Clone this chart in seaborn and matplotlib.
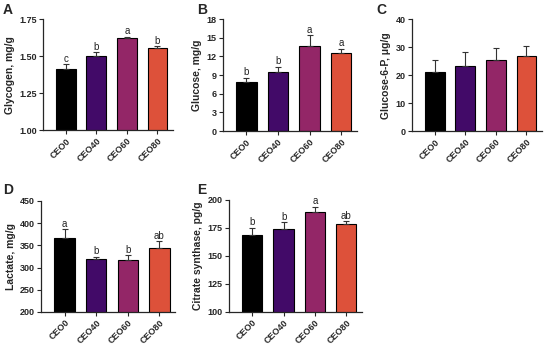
import matplotlib
matplotlib.use("Agg")
import matplotlib.pyplot as plt
import numpy as np
import pandas as pd
import seaborn as sns

GROUPS = ["CEO0", "CEO40", "CEO60", "CEO80"]
COLORS = ["#000000", "#420a68", "#932667", "#dd513a"]

glycogen_mean = [1.41, 1.50, 1.62, 1.555]
glycogen_err = [0.035, 0.025, 0.012, 0.01]
glycogen_letters = ["c", "b", "a", "b"]

glucose_mean = [7.9, 9.5, 13.7, 12.5]
glucose_err = [0.7, 0.8, 1.7, 0.7]
glucose_letters = ["b", "b", "a", "a"]

g6p_mean = [21.2, 23.2, 25.4, 26.7]
g6p_err = [4.1, 4.9, 4.2, 3.7]
g6p_letters = ["", "", "", ""]

lactate_mean = [366, 320, 316, 344]
lactate_err = [20, 4, 12, 15]
lactate_letters = ["a", "b", "b", "ab"]

cs_mean = [169, 174, 189, 178.5]
cs_err = [6, 6, 5, 2.5]
cs_letters = ["b", "b", "a", "ab"]

sns.set_theme(style="ticks")
plt.rcParams["font.family"] = ["Liberation Sans", "DejaVu Sans"]

fig = plt.figure(figsize=(5.5, 3.47), dpi=100)


def panel(rect, letter, means, errs, letters, ylabel, ylim, yticks, fmt, letter_pos):
    ax = fig.add_axes(rect)
    df = pd.DataFrame({"group": GROUPS, "value": means})
    sns.barplot(data=df, x="group", y="value", hue="group", palette=COLORS,
                order=GROUPS, hue_order=GROUPS, legend=False, width=0.65,
                saturation=1, edgecolor="black", linewidth=0.8, errorbar=None, ax=ax)
    x = np.arange(len(GROUPS))
    ax.errorbar(x, means, yerr=[np.zeros(len(errs)), errs], fmt="none",
                ecolor="#333333", elinewidth=0.8, capsize=2.5, capthick=0.8)
    span = ylim[1] - ylim[0]
    for xi, m, e, lab in zip(x, means, errs, letters):
        if lab:
            ax.text(xi, m + e + span * 0.005, lab, ha="center", va="bottom",
                    fontsize=7, color="#222222")
    ax.set_xlim(-0.75, 3.5)
    ax.set_ylim(*ylim)
    ax.set_yticks(yticks)
    ax.set_yticklabels([fmt.format(t) for t in yticks])
    ax.set_xlabel("")
    ax.set_ylabel(ylabel, fontsize=7.5, fontweight="bold", labelpad=3)
    ax.tick_params(axis="y", labelsize=6.5, length=3, width=0.8, pad=1.5)
    ax.tick_params(axis="x", labelsize=6.5, length=3, width=0.8, pad=1.5)
    plt.setp(ax.get_xticklabels(), rotation=45, ha="right", rotation_mode="anchor")
    for t in ax.get_xticklabels() + ax.get_yticklabels():
        t.set_fontweight("bold")
    sns.despine(ax=ax)
    for s in ["left", "bottom"]:
        ax.spines[s].set_linewidth(0.9)
    fig.text(letter_pos[0] / 550, 1 - letter_pos[1] / 347, letter,
             fontsize=10, fontweight="bold", ha="left", va="center")
    return ax


panel([0.078, 0.625, 0.236, 0.32], "A", glycogen_mean, glycogen_err, glycogen_letters,
      "Glycogen, mg/g", (1.0, 1.75), [1.0, 1.25, 1.5, 1.75], "{:.2f}", (3, 10))
panel([0.405, 0.622, 0.244, 0.323], "B", glucose_mean, glucose_err, glucose_letters,
      "Glucose, mg/g", (0, 18), [0, 3, 6, 9, 12, 15, 18], "{:.0f}", (197, 10))
panel([0.749, 0.622, 0.236, 0.323], "C", g6p_mean, g6p_err, g6p_letters,
      "Glucose-6-P, μg/g", (0, 40), [0, 10, 20, 30, 40], "{:.0f}", (376, 10))
panel([0.0745, 0.101, 0.244, 0.32], "D", lactate_mean, lactate_err, lactate_letters,
      "Lactate, mg/g", (200, 450), [200, 250, 300, 350, 400, 450], "{:.0f}", (3, 190))
panel([0.416, 0.101, 0.242, 0.323], "E", cs_mean, cs_err, cs_letters,
      "Citrate synthase, pg/g", (100, 200), [100, 125, 150, 175, 200], "{:.0f}", (197, 190))

fig.savefig("out.png", dpi=100)
